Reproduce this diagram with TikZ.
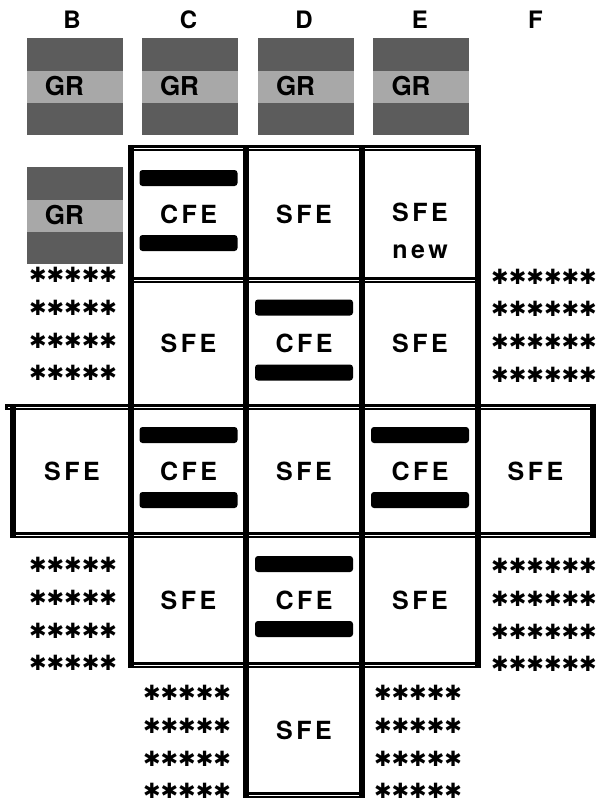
\documentclass[tikz,border=0pt]{standalone}
\usepackage{fontspec}
\setmainfont{TeX Gyre Heros}
\newfontfamily\cellfont[LetterSpace=14]{TeX Gyre Heros}
\newfontfamily\starfont{DejaVu Sans}

\tikzset{
  colhead/.style={font=\bfseries\fontsize{24}{26}\selectfont},
  cell/.style={font=\cellfont\bfseries\fontsize{25}{37}\selectfont},
  grtext/.style={font=\bfseries\fontsize{26}{28}\selectfont},
  grfield/.style={fill=black!64},
  grband/.style={fill=black!34},
  bar/.style={fill=black, rounded corners=3pt},
  stars/.style={font=\starfont\fontsize{21}{32.7}\selectfont, align=center, inner sep=0pt},
  hline/.style={line width=2.6pt, double=white, double distance=0.5pt, line cap=rect},
  vline/.style={line width=5.5pt, line cap=rect}
}

\begin{document}
\begin{tikzpicture}[x=1pt,y=-1pt]
    \useasboundingbox (0,0) rectangle (600,804);

    % Column letters
    \foreach \col/\cx in {B/72,C/188.5,D/304,E/420,F/535.5}
        \node[colhead] (head\col) at (\cx,20) {\col};

    % Gray GR fields
    \foreach \gx/\gy/\gname in {74.5/86.5/grB1, 189.5/86.5/grC1, 305.5/86.5/grD1, 421/86.5/grE1, 74.5/215.5/grB2} {
        \fill[grfield] (\gx-48,\gy-48.5) rectangle (\gx+48,\gy+48.5);
        \fill[grband] (\gx-48,\gy-16) rectangle (\gx+48,\gy+16);
        \node[grtext] (\gname) at (\gx-10,\gy) {GR};
    }

    % Horizontal borders
    \draw[hline] (131,148) -- (478,148);
    \draw[hline] (131,280) -- (478,280);
    \draw[hline] (8,407) -- (593,407);
    \draw[hline] (13,535) -- (593,535);
    \draw[hline] (131,665) -- (478,665);
    \draw[hline] (246,795) -- (362,795);

    % Vertical borders
    \draw[vline] (131,148) -- (131,665);
    \draw[vline] (246,148) -- (246,795);
    \draw[vline] (362,148) -- (362,795);
    \draw[vline] (478,148) -- (478,665);
    \draw[vline] (13,407) -- (13,535);
    \draw[vline] (593,407) -- (593,535);

    % Bars of the CFE cells
    \foreach \cx/\cy in {188.5/214, 304/343.5, 188.5/471, 420/471, 304/600} {
        \fill[bar] (\cx-49,\cy-44) rectangle (\cx+49,\cy-28);
        \fill[bar] (\cx-49,\cy+21) rectangle (\cx+49,\cy+37);
    }

    % Cell labels
    \node[cell] (C2) at (188.5,214) {CFE};
    \node[cell] (D2) at (304,214) {SFE};
    \node[cell,align=center] (E2) at (420,231) {SFE\\new};

    \node[cell] (C3) at (188.5,343.5) {SFE};
    \node[cell] (D3) at (304,343.5) {CFE};
    \node[cell] (E3) at (420,343.5) {SFE};

    \node[cell] (B4) at (72,471) {SFE};
    \node[cell] (C4) at (188.5,471) {CFE};
    \node[cell] (D4) at (304,471) {SFE};
    \node[cell] (E4) at (420,471) {CFE};
    \node[cell] (F4) at (535.5,471) {SFE};

    \node[cell] (C5) at (188.5,600) {SFE};
    \node[cell] (D5) at (304,600) {CFE};
    \node[cell] (E5) at (420,600) {SFE};

    \node[cell] (D6) at (304,730) {SFE};

    % Star fields
    \node[stars] (starsB3) at (73,324) {✱✱✱✱✱\\✱✱✱✱✱\\✱✱✱✱✱\\✱✱✱✱✱};
    \node[stars] (starsF3) at (544,325.5) {✱✱✱✱✱✱\\✱✱✱✱✱✱\\✱✱✱✱✱✱\\✱✱✱✱✱✱};
    \node[stars] (starsB5) at (73,614) {✱✱✱✱✱\\✱✱✱✱✱\\✱✱✱✱✱\\✱✱✱✱✱};
    \node[stars] (starsF5) at (544,615) {✱✱✱✱✱✱\\✱✱✱✱✱✱\\✱✱✱✱✱✱\\✱✱✱✱✱✱};
    \node[stars] (starsC6) at (187,742) {✱✱✱✱✱\\✱✱✱✱✱\\✱✱✱✱✱\\✱✱✱✱✱};
    \node[stars] (starsE6) at (418,742) {✱✱✱✱✱\\✱✱✱✱✱\\✱✱✱✱✱\\✱✱✱✱✱};
\end{tikzpicture}
\end{document}
